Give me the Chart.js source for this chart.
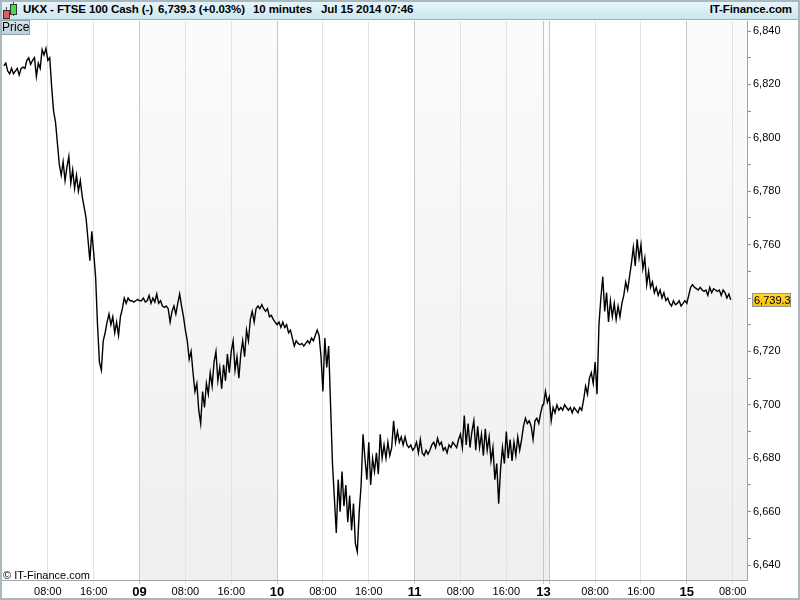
<!DOCTYPE html>
<html>
<head>
<meta charset="utf-8">
<script src="https://cdn.jsdelivr.net/npm/chart.js@4"></script>
<style>
  html, body { margin:0; padding:0; background:#fff; }
  #wrap { position:relative; width:800px; height:600px; overflow:hidden; font-family:"Liberation Sans", Arial, sans-serif; }
  #c { position:absolute; left:0; top:0; }
  #header { position:absolute; left:0; top:0; width:800px; height:19px; border-bottom:1px solid #9fb1ba;
            background:linear-gradient(#e9f6fb, #cde6f0); font-weight:bold; font-size:11.5px; letter-spacing:-0.1px; color:#000; }
  #header span { position:absolute; top:3px; white-space:nowrap; }
  #priceBox { position:absolute; left:0; top:20px; width:27px; height:13px; border:1px solid #8ea3ad;
              background:linear-gradient(#d8e5ea,#bfd0d8); font-size:12px; line-height:13px; padding-left:1px; }
  #copy { position:absolute; left:3px; top:569px; font-size:11px; color:#000; }
  #frame { position:absolute; left:0; top:0; width:800px; height:600px; box-sizing:border-box; border:2px solid #a9b7be; pointer-events:none; }
  .cand { position:absolute; border:1px solid #333; }
</style>
</head>
<body>
<div id="wrap">
  <canvas id="c" width="800" height="600"></canvas>
  <div id="header">
    <div style="position:absolute;left:6px;top:7px;width:1px;height:12px;background:#555"></div>
    <div class="cand" style="left:3px;top:10px;width:5px;height:7px;background:#e85a5a"></div>
    <div style="position:absolute;left:13px;top:1px;width:1px;height:15px;background:#555"></div>
    <div class="cand" style="left:10px;top:4px;width:5px;height:9px;background:#4cd84c"></div>
    <span style="left:23px">UKX - FTSE 100 Cash (-)</span>
    <span style="left:158px">6,739.3 (+0.03%)</span>
    <span style="left:253px">10 minutes</span>
    <span style="left:321px">Jul 15 2014 07:46</span>
    <span style="right:8px">IT-Finance.com</span>
  </div>
  <div id="priceBox">Price</div>
  <div id="copy">© IT-Finance.com</div>
  <div id="frame"></div>
</div>
<script>
// ---------- DATA ----------
const STEP_MINUTES = 20;
// start time ("day HH:MM", July 2014) of each session block; values every 20 minutes
const blockStarts = ['08 00:20', '09 00:20', '10 00:20', '11 00:20', '13 23:00', '15 00:20'];

const jul08 = [6827,6828,6825,6824,6826,6824,6825,6826,6823.5,6826,6826.5,6826,6829,6830,6827.5,6829,6830,6823,6828,6826,
  6833,6831,6833.5,6829,6830,6819,6810,6806,6798,6790,6786,6791,6784,6789,6793,6783,6788,6781,6786,6780,
  6784,6778,6774,6770,6762,6754,6765,6757,6748,6730,6716,6713,6724,6727,6731,6734,6730,6733,6727,6731,
  6726,6733,6736,6740,6738,6740,6739,6739,6738.5,6739,6739.5,6739];
const jul09 = [6739,6740,6738.5,6739,6741,6738,6740,6738.5,6741.5,6738,6739,6737,6736.5,6737,6736,6731,6735,6737,6734,6738,
  6741.5,6737,6733,6728,6724,6717,6720,6712,6705,6708,6698,6693,6705,6699,6708,6704,6712,6707,6716,6720,
  6709,6714,6706,6715,6709,6719,6712,6720,6724,6713,6718,6710,6719,6724,6718,6728,6724,6732,6735,6731,
  6736,6737,6736,6737.5,6736,6735,6736,6733,6733.5,6732,6731,6730];
const jul10 = [6731,6729,6731,6729,6730,6727,6728,6725,6722,6724,6723,6722.5,6723,6722,6723,6724,6723,6725,6724,6726,
  6728,6726,6718,6705,6725,6714,6722,6700,6678,6665,6652,6672,6660,6675,6662,6670,6656,6666,6653,6663,
  6648,6645,6660,6670,6689,6680,6672,6686,6670,6680,6675,6682,6674,6689,6680,6685,6680,6686,6681,6684,
  6694,6686,6690,6686,6688,6685,6688,6685,6684,6685,6683,6684];
const jul11 = [6686,6682,6687,6682,6681,6683,6681.5,6683,6685,6686,6684,6687.5,6685,6686,6683,6684,6682,6685,6684,6686,
  6685,6684,6687,6689,6684,6696,6685,6693,6684,6690,6694,6683,6692,6684,6689,6681,6691,6683,6688,6679,
  6684,6672,6678,6663,6676,6684,6678,6690,6680,6687,6679,6686,6681,6688,6683,6687,6692,6695,6693,6694,
  6692,6687,6694,6695,6693,6697,6700];
const jul13to14 = [6700,6705,6701,6703,6694,6699,6697,6700,6698,6699,6698,6700,6699,6698,6699,6697,6699,6698,6697,6699,
  6698,6702,6707,6704,6710,6712,6708,6716,6704,6730,6740,6748,6735,6742,6731,6739,6733,6738,6732,6737,
  6733,6738,6741,6746,6743,6748,6753,6759,6752,6762,6755,6760,6751,6755,6745,6750,6744,6746,6742,6744,
  6741,6743,6740,6742,6739,6740,6738,6737,6739,6737.5,6738,6739,6737,6738,6739,6738];
const jul15 = [6741,6744,6745,6744,6743.5,6743,6744,6743,6742.5,6743,6741,6744,6742,6743.5,6743,6742.5,6743,6741,6743,6742,
  6740,6741.5,6739.3];
const blocks = [jul08, jul09, jul10, jul11, jul13to14, jul15];

const lastPrice = 6739.3;
const axisRange = ['08 00:00', '15 10:30'];
const xTickTimes  = ['08 08:00','08 16:00','09 00:00','09 08:00','09 16:00','10 00:00','10 08:00','10 16:00',
                     '11 00:00','11 08:00','11 16:00','13 23:00','14 00:00','14 08:00','14 16:00','15 00:00','15 08:00'];
const xTickLabels = ['08:00','16:00','09','08:00','16:00','10','08:00','16:00',
                     '11','08:00','16:00','13','','08:00','16:00','15','08:00'];
const shadedSpans = [['09 00:00','10 00:00'], ['11 00:00','14 00:00'], ['15 00:00','15 10:30']];
const yTickValues = [6640,6650,6660,6670,6680,6690,6700,6710,6720,6730,6740,6750,6760,6770,6780,6790,6800,6810,6820,6830,6840];
const yRange = [6634.4, 6843.75];

// ---------- time handling (weekend gap removed: Fri 22:30 -> Sun 23:00) ----------
function sessionHour(t) {
  const [d, hm] = t.split(' ');
  const [hh, mm] = hm.split(':').map(Number);
  const day = Number(d);
  let h = (day - 8) * 24 + hh + mm / 60;
  if (day >= 13) h -= 48.5;
  return h;
}

const points = [];
blocks.forEach((vals, b) => {
  const h0 = sessionHour(blockStarts[b]);
  vals.forEach((v, i) => points.push({ x: h0 + i * STEP_MINUTES / 60, y: v }));
});

const isMajor = i => xTickLabels[i] === '' || /^\d\d$/.test(xTickLabels[i]);

const shadePlugin = {
  id: 'shade',
  beforeDraw(chart) {
    const { ctx, chartArea: a, scales: { x } } = chart;
    ctx.save();
    ctx.beginPath(); ctx.rect(a.left, a.top, a.right - a.left, a.bottom - a.top); ctx.clip();
    const g = ctx.createLinearGradient(0, a.top, 0, a.bottom);
    g.addColorStop(0, '#fbfbfb'); g.addColorStop(1, '#efefef');
    ctx.fillStyle = g;
    shadedSpans.forEach(([s, e]) => {
      const x0 = x.getPixelForValue(sessionHour(s)), x1 = x.getPixelForValue(sessionHour(e));
      ctx.fillRect(x0, a.top, x1 - x0, a.bottom - a.top);
    });
    ctx.restore();
  }
};

const priceLabelPlugin = {
  id: 'priceLabel',
  afterDraw(chart) {
    const { ctx, chartArea: a, scales: { y } } = chart;
    const py = Math.round(y.getPixelForValue(lastPrice));
    const x0 = a.right + 5, w = 39, h = 14;
    ctx.save();
    const g = ctx.createLinearGradient(0, py - h / 2, 0, py + h / 2);
    g.addColorStop(0, '#ffd83a'); g.addColorStop(1, '#f5bf00');
    ctx.fillStyle = g;
    ctx.fillRect(x0, py - h / 2, w, h);
    ctx.strokeStyle = '#8e97a0'; ctx.lineWidth = 1;
    ctx.strokeRect(x0 + 0.5, py - h / 2 + 0.5, w - 1, h - 1);
    ctx.fillStyle = '#000';
    ctx.font = '11px "Liberation Sans", Arial, sans-serif';
    ctx.textBaseline = 'middle';
    ctx.fillText(lastPrice.toLocaleString('en-US', { minimumFractionDigits: 1 }), x0 + 2, py + 0.5);
    ctx.restore();
  }
};

new Chart(document.getElementById('c'), {
  type: 'line',
  data: { datasets: [{ data: points, borderColor: '#000', borderWidth: 1.4, pointRadius: 0, tension: 0, fill: false }] },
  options: {
    responsive: false,
    animation: false,
    events: [],
    layout: { padding: { left: 2, top: 21, right: 2, bottom: 2 } },
    plugins: { legend: { display: false }, tooltip: { enabled: false } },
    scales: {
      x: {
        type: 'linear',
        min: sessionHour(axisRange[0]),
        max: sessionHour(axisRange[1]),
        afterBuildTicks: s => { s.ticks = xTickTimes.map(t => ({ value: sessionHour(t) })); },
        afterFit: s => { s.height = 18; },
        grid: {
          color: c => isMajor(c.index) ? '#c6c6c6' : '#e3e3e3',
          tickLength: 4,
          lineWidth: 1
        },
        border: { color: '#9ba7ad', width: 1 },
        ticks: {
          autoSkip: false, maxRotation: 0, minRotation: 0, padding: 1, color: '#000',
          font: c => isMajor(c.index)
            ? { family: '"Liberation Sans", Arial, sans-serif', size: 13, weight: 'bold' }
            : { family: '"Liberation Sans", Arial, sans-serif', size: 11 },
          callback: (v, i) => xTickLabels[i]
        }
      },
      y: {
        position: 'right',
        min: yRange[0],
        max: yRange[1],
        afterBuildTicks: s => { s.ticks = yTickValues.map(v => ({ value: v })); },
        afterFit: s => { s.width = 51; },
        grid: { drawOnChartArea: false, tickLength: 4, color: '#8c8c8c' },
        border: { color: '#9ba7ad', width: 1 },
        ticks: {
          autoSkip: false, padding: 2, color: '#000',
          font: { family: '"Liberation Sans", Arial, sans-serif', size: 11 },
          callback: v => (v % 20 === 0 ? v.toLocaleString('en-US') : '')
        }
      }
    }
  },
  plugins: [shadePlugin, priceLabelPlugin]
});
</script>
</body>
</html>
